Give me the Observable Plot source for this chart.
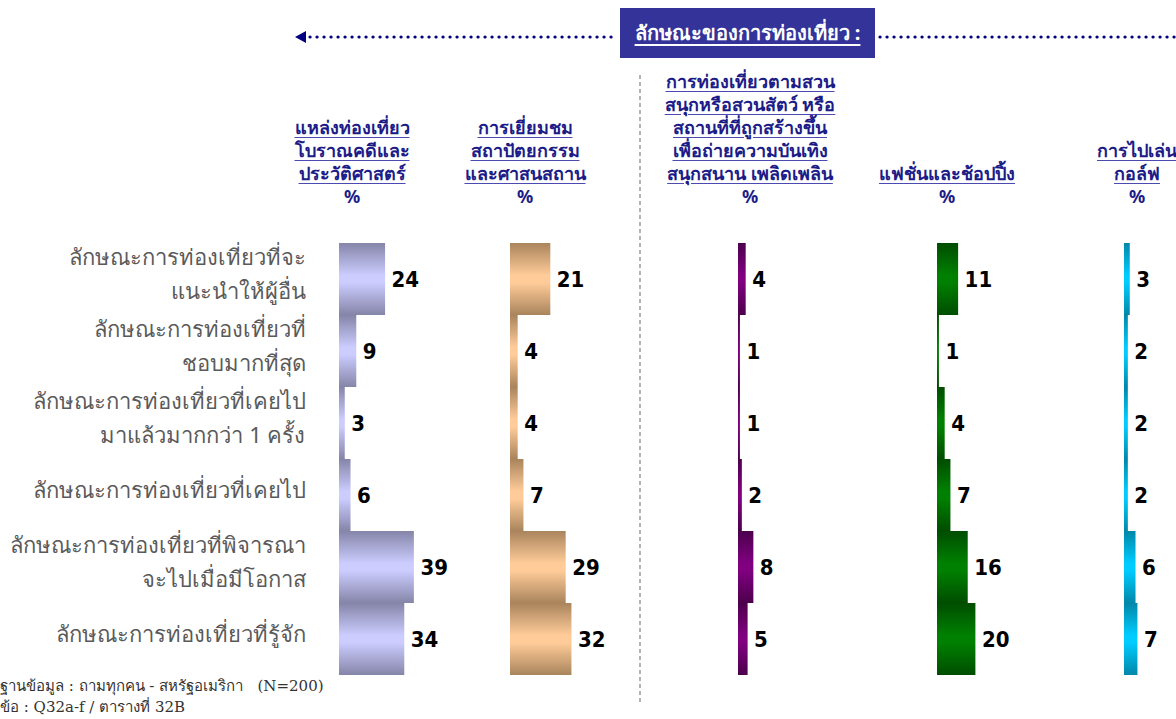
<!DOCTYPE html>
<html><head><meta charset="utf-8">
<script src="https://cdn.jsdelivr.net/npm/d3@7"></script>
<script src="https://cdn.jsdelivr.net/npm/@observablehq/plot@0.6"></script>
<style>
body{margin:0;background:#fff;}
#root{position:relative;width:1176px;height:719px;overflow:hidden;background:#fff;}
.hdr{position:absolute;bottom:511px;transform:translateX(-50%);text-align:center;color:#1c1c88;font-family:Tahoma,"Noto Sans","DejaVu Sans",sans-serif;font-weight:bold;font-size:18px;line-height:23px;white-space:nowrap;}
.hdr .u{text-decoration:underline;text-decoration-color:#4a4ab0;text-underline-offset:3px;}
.banner{position:absolute;left:620px;top:8px;width:255px;height:50px;background:#333399;color:#fff;font-family:Tahoma,"Noto Sans","DejaVu Sans",sans-serif;font-weight:bold;font-size:20px;line-height:50px;text-align:center;white-space:nowrap;}
.banner span{text-decoration:underline;text-underline-offset:4px;}
.plot{position:absolute;top:241px;}
.plot svg{overflow:visible;max-width:none!important;}
.foot{position:absolute;left:0px;font-family:"DejaVu Serif","Liberation Serif",serif;font-size:15px;line-height:19px;color:#333;white-space:pre;}
</style></head>
<body>
<svg width="0" height="0" style="position:absolute">
  <defs id="gdefs"></defs>
</svg>
<div id="root">
  <svg id="deco" width="1176" height="719" style="position:absolute;left:0;top:0">
    <polygon points="295,37 306,31 306,43" fill="#000080"/>
    <line x1="310" y1="37" x2="618" y2="37" stroke="#000080" stroke-width="3.2" stroke-dasharray="0.1 6.9" stroke-linecap="round"/>
    <line x1="880" y1="37" x2="1176" y2="37" stroke="#000080" stroke-width="3.2" stroke-dasharray="0.1 6.9" stroke-linecap="round"/>
    <line x1="640" y1="75" x2="640" y2="705" stroke="#9a9a9a" stroke-width="1.5" stroke-dasharray="4 3"/>
  </svg>
  <div class="banner"><span>ลักษณะของการท่องเที่ยว :</span></div>
</div>
<script>
// ---- data ----
const rows = [
  "ลักษณะการท่องเที่ยวที่จะ\nแนะนำให้ผู้อื่น",
  "ลักษณะการท่องเที่ยวที่\nชอบมากที่สุด",
  "ลักษณะการท่องเที่ยวที่เคยไป\nมาแล้วมากกว่า 1 ครั้ง",
  "ลักษณะการท่องเที่ยวที่เคยไป",
  "ลักษณะการท่องเที่ยวที่พิจารณา\nจะไปเมื่อมีโอกาส",
  "ลักษณะการท่องเที่ยวที่รู้จัก"
];
const columnTitles = [
  ["แหล่งท่องเที่ยว", "โบราณคดีและ", "ประวัติศาสตร์"],
  ["การเยี่ยมชม", "สถาปัตยกรรม", "และศาสนสถาน"],
  ["การท่องเที่ยวตามสวน", "สนุกหรือสวนสัตว์ หรือ", "สถานที่ที่ถูกสร้างขึ้น", "เพื่อถ่ายความบันเทิง", "สนุกสนาน เพลิดเพลิน"],
  ["แฟชั่นและช้อปปิ้ง"],
  ["การไปเล่น", "กอล์ฟ"]
];
const unitLabel = "%";
const archaeology = [24, 9, 3, 6, 39, 34];
const architecture = [21, 4, 4, 7, 29, 32];
const themeParks = [4, 1, 1, 2, 8, 5];
const fashionShopping = [11, 1, 4, 7, 16, 20];
const golf = [3, 2, 2, 2, 6, 7];
const bannerTitle = "ลักษณะของการท่องเที่ยว :";
const footnotes = ["ฐานข้อมูล : ถามทุกคน - สหรัฐอเมริกา   (N=200)", "ข้อ : Q32a-f / ตารางที่ 32B"];

// ---- layout / style ----
const series = [archaeology, architecture, themeParks, fashionShopping, golf];
const colLeft = [339, 510, 738, 937, 1124];
const headerCenter = [352, 525, 750, 947, 1137];
const gradients = [
  ["#8585a9", "#ccccff"],
  ["#a9845c", "#ffcc99"],
  ["#4c004c", "#800080"],
  ["#004d00", "#008000"],
  ["#0087a9", "#00ccff"]
];
const pxPerUnit = 1.92;
const plotH = 435;

const ns = "http://www.w3.org/2000/svg";
const defs = document.getElementById("gdefs");
gradients.forEach(([dark, light], i) => {
  const g = document.createElementNS(ns, "linearGradient");
  g.setAttribute("id", "grad" + i);
  g.setAttribute("x1", "0"); g.setAttribute("y1", "0");
  g.setAttribute("x2", "0"); g.setAttribute("y2", "1");
  [[0, dark], [0.45, light], [0.55, light], [1, dark]].forEach(([o, c]) => {
    const s = document.createElementNS(ns, "stop");
    s.setAttribute("offset", o); s.setAttribute("stop-color", c);
    g.appendChild(s);
  });
  defs.appendChild(g);
});

const root = document.getElementById("root");

series.forEach((vals, i) => {
  const data = rows.map((r, j) => ({row: r, v: vals[j]}));
  const ml = i === 0 ? colLeft[0] : 0;
  const barW = 120;
  const marks = [
    Plot.barX(data, {x: "v", y: "row", fill: `url(#grad${i})`}),
    Plot.text(data, {x: "v", y: "row", text: d => String(d.v), dx: 6, textAnchor: "start",
      fontWeight: "bold", fontSize: 22, fill: "#000",
      fontFamily: "'DejaVu Sans Condensed','DejaVu Sans',Verdana,sans-serif"})
  ];
  if (i === 0) {
    marks.push(Plot.axisY({tickSize: 0, tickPadding: 34, fontSize: 22, lineHeight: 1.55,
      dy: -8, fill: "#5a5a5a", label: null,
      fontFamily: "Tahoma,'Noto Sans','DejaVu Sans',sans-serif"}));
  }
  const chart = Plot.plot({
    width: ml + barW,
    height: plotH,
    marginTop: 0, marginBottom: 0, marginRight: 0, marginLeft: ml,
    x: {domain: [0, 100], range: [ml, ml + 100 * pxPerUnit], axis: null},
    y: {domain: rows, padding: 0, axis: null},
    style: {background: "transparent", overflow: "visible"},
    marks
  });
  const wrap = document.createElement("div");
  wrap.className = "plot";
  wrap.style.left = (i === 0 ? 0 : colLeft[i]) + "px";
  wrap.style.width = (ml + barW) + "px";
  wrap.appendChild(chart);
  root.appendChild(wrap);

  const h = document.createElement("div");
  h.className = "hdr";
  h.style.left = headerCenter[i] + "px";
  h.innerHTML = columnTitles[i].map(t => `<span class="u">${t}</span>`).join("<br>") + "<br>" + unitLabel;
  root.appendChild(h);
});

footnotes.forEach((t, k) => {
  const f = document.createElement("div");
  f.className = "foot";
  f.style.top = (677 + k * 21) + "px";
  f.textContent = t;
  root.appendChild(f);
});
</script>
</body></html>
